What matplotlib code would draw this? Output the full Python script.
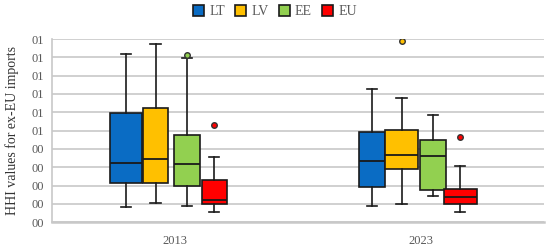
import matplotlib
matplotlib.use("Agg")
import matplotlib.pyplot as plt
from matplotlib.patches import Patch

# categories and series
years = ["2013", "2023"]
countries = ["LT", "LV", "EE", "EU"]
colors = ["#0A6CC4", "#FFC000", "#92D050", "#FF0000"]

# box statistics per country, one value per year (axis units)
q1 = {"LT": [2.12, 1.92], "LV": [2.15, 2.90], "EE": [1.99, 1.75], "EU": [0.97, 0.99]}
med = {"LT": [3.23, 3.36], "LV": [3.43, 3.67], "EE": [3.16, 3.60], "EU": [1.22, 1.37]}
q3 = {"LT": [5.95, 4.91], "LV": [6.22, 5.05], "EE": [4.78, 4.49], "EU": [2.32, 1.81]}
whislo = {"LT": [0.84, 0.86], "LV": [1.04, 0.99], "EE": [0.86, 1.42], "EU": [0.55, 0.55]}
whishi = {"LT": [9.20, 7.28], "LV": [9.72, 6.77], "EE": [8.96, 5.84], "EU": [3.57, 3.07]}
fliers = {"LT": [[], []], "LV": [[], [9.92]], "EE": [[9.14], []], "EU": [[5.33], [4.64]]}

ytick_labels = ["00", "00", "00", "00", "00", "01", "01", "01", "01", "01", "01"]

# layout: box centre offsets and widths (fraction of a category slot)
offsets = [-0.199, -0.079, 0.049, 0.159]
widths = [[0.134, 0.102, 0.102, 0.102], [0.102, 0.134, 0.104, 0.134]]

plt.rcParams["font.family"] = ["Liberation Serif", "DejaVu Serif"]
text_color = "#595959"
grid_color = "#C8C8C8"

fig = plt.figure(figsize=(5.5, 2.49), dpi=100)
ax = fig.add_axes([0.0945, 0.108, 0.8945, 0.735])

for g, year in enumerate(years):
    centre = g + 0.5
    for i, c in enumerate(countries):
        stats = [{
            "med": med[c][g], "q1": q1[c][g], "q3": q3[c][g],
            "whislo": whislo[c][g], "whishi": whishi[c][g],
            "fliers": fliers[c][g],
        }]
        w = widths[g][i]
        ax.bxp(
            stats, positions=[centre + offsets[i]], widths=[w],
            patch_artist=True, manage_ticks=False,
            boxprops=dict(facecolor=colors[i], edgecolor="#1a1a1a", linewidth=1.2),
            medianprops=dict(color="#1a1a1a", linewidth=1.3),
            whiskerprops=dict(color="#1a1a1a", linewidth=1.2),
            capprops=dict(color="#1a1a1a", linewidth=1.2),
            capwidths=[0.042],
            flierprops=dict(marker="o", markersize=4, markerfacecolor=colors[i],
                            markeredgecolor="#333333", markeredgewidth=1.0),
            zorder=3,
        )

ax.set_xlim(0, 2)
ax.set_ylim(0, 10)
ax.set_yticks(range(11))
ax.set_yticklabels(ytick_labels)
ax.set_xticks([0.5, 1.5])
ax.set_xticklabels(years)
ax.tick_params(axis="both", length=0, labelsize=9, colors=text_color)
ax.tick_params(axis="x", pad=9)
ax.tick_params(axis="y", pad=6)
ax.yaxis.grid(True, color=grid_color, linewidth=1.2, zorder=0)
ax.set_axisbelow(True)
for side in ["top", "right"]:
    ax.spines[side].set_visible(False)
ax.spines["left"].set_color(grid_color)
ax.spines["left"].set_linewidth(1.2)
ax.spines["bottom"].set_color(grid_color)
ax.spines["bottom"].set_linewidth(1.8)

ax.set_ylabel("HHI values for ex-EU imports", fontsize=10, color="#333333", labelpad=9)

handles = [Patch(facecolor=col, edgecolor="#1a1a1a", linewidth=1.2) for col in colors]
fig.legend(handles, countries, loc="upper center", bbox_to_anchor=(0.5, 1.03), ncol=4,
           frameon=False, fontsize=10, handlelength=0.8, handleheight=0.8,
           handletextpad=0.35, columnspacing=0.75, labelcolor=text_color)

fig.savefig("out.png", dpi=100)
